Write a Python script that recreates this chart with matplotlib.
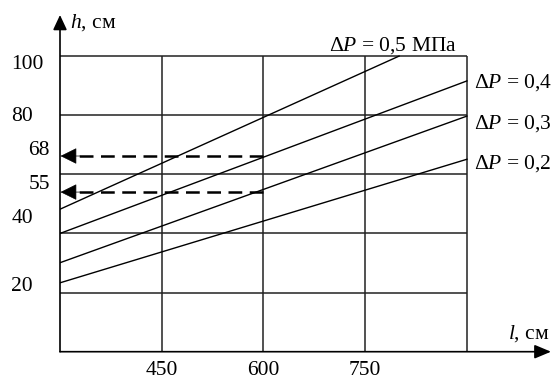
import matplotlib
matplotlib.use("Agg")
import matplotlib.pyplot as plt

plt.rcParams['font.family'] = ['Liberation Serif', 'DejaVu Serif']
plt.rcParams['mathtext.fontset'] = 'custom'
plt.rcParams['mathtext.rm'] = 'Liberation Serif'
plt.rcParams['mathtext.it'] = 'Liberation Serif:italic'

# data
l_start = [300, 300, 300, 300]
l_end = [800, 900, 900, 900]
h_start = [48.2, 40.0, 30.1, 23.3]
h_end = [100.0, 91.6, 79.7, 65.1]
dp_labels = [r"Δ$P$ = 0,5 МПа", r"Δ$P$ = 0,4", r"Δ$P$ = 0,3", r"Δ$P$ = 0,2"]

grid_x = [450, 600, 750, 900]
grid_y = [20, 40, 60, 80, 100]
xtick_vals = [450, 600, 750]
ytick_labels = ["100", "80", "68", "55", "40", "20"]

read_l = 600
read_h = [66.2, 54.0]

fs = 15.5
fig = plt.figure(figsize=(5.56, 3.79), dpi=100)
ax = fig.add_axes([60/556, (379-351.7)/379, 491/556, 336.7/379])
ax.set_xlim(300, 1024)
ax.set_ylim(0, 113.9)
ax.axis('off')

# grid
gc = '#222222'
for y in grid_y:
    ax.plot([300, 900], [y, y], color=gc, lw=1.1, solid_capstyle='butt')
for x in grid_x:
    ax.plot([x, x], [0, 100], color=gc, lw=1.1, solid_capstyle='butt')

# axes with arrows
ax.annotate('', xy=(0, 1), xytext=(0, 0), xycoords='axes fraction',
            arrowprops=dict(arrowstyle='-|>,head_length=0.9,head_width=0.42',
                            mutation_scale=10, color='k', lw=1.2,
                            shrinkA=0, shrinkB=0))
ax.annotate('', xy=(1, 0), xytext=(0, 0), xycoords='axes fraction',
            arrowprops=dict(arrowstyle='-|>,head_length=1.0,head_width=0.42',
                            mutation_scale=10, color='k', lw=1.2,
                            shrinkA=0, shrinkB=0))

# pressure lines
for x0, x1, y0, y1 in zip(l_start, l_end, h_start, h_end):
    ax.plot([x0, x1], [y0, y1], color='k', lw=1.0)

# dashed read-off arrows
for y in read_h:
    ax.plot([read_l, 312], [y, y], color='k', lw=1.8, dashes=(5.5, 3))
    ax.annotate('', xy=(300.8, y), xytext=(14, 0), textcoords='offset points',
                arrowprops=dict(arrowstyle='-|>,head_length=1.05,head_width=0.52',
                                mutation_scale=10, color='k', lw=0.5,
                                shrinkA=0, shrinkB=0))

# labels of the lines
ax.text(791, 103.7, dp_labels[0], fontsize=fs, ha='center', va='center')
for lab, y in zip(dp_labels[1:], [91.2, 77.3, 63.8]):
    ax.text(911, y, lab, fontsize=fs, ha='left', va='center', clip_on=False)

# axis titles
ax.text(314.7, 111.2, r"$h$, см", fontsize=fs, ha='left', va='center', clip_on=False)
ax.text(1022, 6.3, r"$l$, см", fontsize=fs, ha='right', va='center', clip_on=False)

# tick labels
for v in xtick_vals:
    ax.text(v, -6.2, str(v), fontsize=fs, ha='center', va='center', clip_on=False)
ylab_x = [276.4, 260.2, 285.3, 285.3, 260.2, 260.2]
ylab_y = [97.0, 79.4, 68.2, 56.4, 45.2, 22.2]
for lab, x, y in zip(ytick_labels, ylab_x, ylab_y):
    ax.text(x, y, lab, fontsize=fs, ha='right', va='center', clip_on=False)

fig.savefig('out.png', dpi=100, facecolor='white')
